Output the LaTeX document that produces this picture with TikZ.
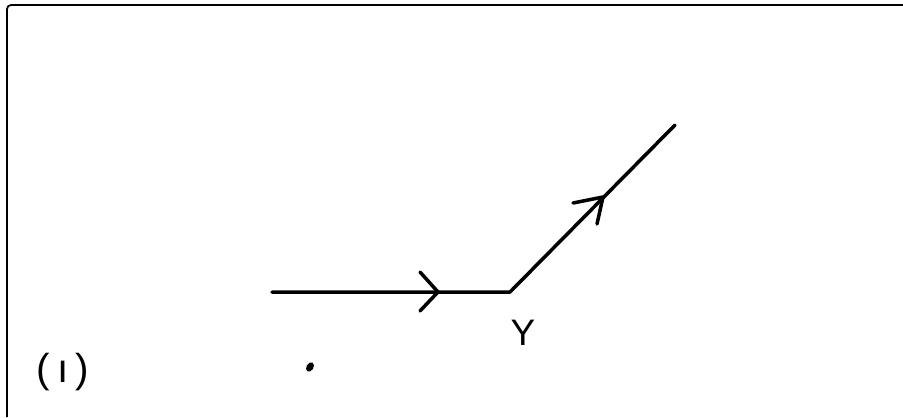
\documentclass[tikz,border=0pt]{standalone}
\usepackage{fontspec}
\setmainfont{Liberation Sans}
\begin{document}
\begin{tikzpicture}[x=0.02cm,y=-0.02cm,
  edge/.style={line width=2pt,line cap=round,line join=round},
  frame/.style={line width=1pt},
  lbl/.style={inner sep=0pt,font=\fontsize{21}{24}\selectfont}]
\useasboundingbox (0,0) rectangle (903,417);
\draw[frame] (7,417) -- (7,9) to[out=90,in=180] (11,5) -- (903,5);
\coordinate (a) at (272,292);
\coordinate (v) at (510,292);
\coordinate (e) at (675,125);
\draw[edge] (a) -- (v) -- (e);
\coordinate (t1) at (438,292);
\draw[edge] (420,272) -- (t1) -- (420,311);
\coordinate (t2) at (603,197);
\draw[edge] (573,203) -- (t2) -- (597,224);
\node[lbl] (y) at (523,333) {Y};
\node[lbl,font=\fontsize{23}{26}\selectfont] (lab) at (63,372) {(\kern4pt ı\kern4pt)};
\fill[rotate around={-30:(310,367)}] (310,367) ellipse (3.5 and 5);
\end{tikzpicture}
\end{document}
